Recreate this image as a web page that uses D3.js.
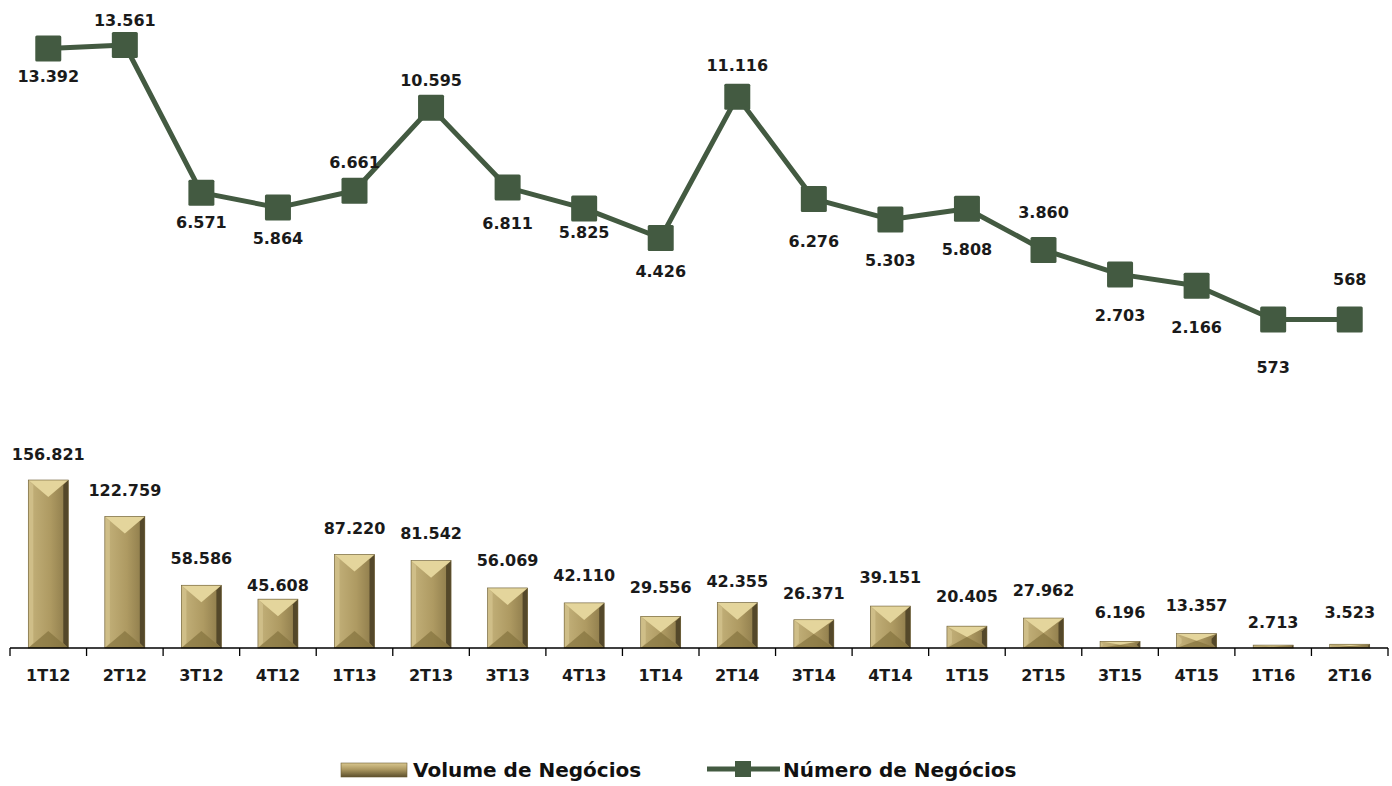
<!DOCTYPE html>
<html>
<head>
<meta charset="utf-8">
<script src="https://cdn.jsdelivr.net/npm/d3@7"></script>
<style>
  body { margin: 0; background: #fff; }
  svg { display: block; }
</style>
</head>
<body>
<div id="chart"></div>
<script>
// quarters
const quarters = ["1T12","2T12","3T12","4T12","1T13","2T13","3T13","4T13","1T14","2T14","3T14","4T14","1T15","2T15","3T15","4T15","1T16","2T16"];
// Volume de Negócios (bars)
const volume = [156821,122759,58586,45608,87220,81542,56069,42110,29556,42355,26371,39151,20405,27962,6196,13357,2713,3523];
const volumeLabels = ["156.821","122.759","58.586","45.608","87.220","81.542","56.069","42.110","29.556","42.355","26.371","39.151","20.405","27.962","6.196","13.357","2.713","3.523"];
// Número de Negócios (line)
const numero = [13392,13561,6571,5864,6661,10595,6811,5825,4426,11116,6276,5303,5808,3860,2703,2166,573,568];
const numeroLabels = ["13.392","13.561","6.571","5.864","6.661","10.595","6.811","5.825","4.426","11.116","6.276","5.303","5.808","3.860","2.703","2.166","573","568"];

const W = 1392, H = 786;
const lineColor = "#435a41";
const font = "'DejaVu Sans', sans-serif";

// label placement (centre offset from point, px) - labels were hand placed in the original
const numeroLabelDy = [27,-25,29,30,-29,-28,35,24,33,-32,42,41,40,-38,41,41,48,-40];
const volumeLabelDy = [-26,-26,-27,-14,-27,-28,-28,-28,-29,-22,-27,-29,-30,-28,-29,-29,-23,-32];

let svg = d3.select("#chart").append("svg")
  .attr("width", W).attr("height", H);

let defs = svg.append("defs");
let g1 = defs.append("linearGradient").attr("id", "faceGrad")
  .attr("x1", "0").attr("x2", "1").attr("y1", "0").attr("y2", "0");
g1.append("stop").attr("offset", "0%").attr("stop-color", "#c4b27b");
g1.append("stop").attr("offset", "55%").attr("stop-color", "#ae9a62");
g1.append("stop").attr("offset", "100%").attr("stop-color", "#8a7848");

let g2 = defs.append("linearGradient").attr("id", "legGrad")
  .attr("x1", "0").attr("x2", "0").attr("y1", "0").attr("y2", "1");
g2.append("stop").attr("offset", "0%").attr("stop-color", "#d9c78f");
g2.append("stop").attr("offset", "45%").attr("stop-color", "#ad9962");
g2.append("stop").attr("offset", "100%").attr("stop-color", "#5c4f2c");

let x = d3.scaleBand().domain(quarters).range([10, 1388]);
let cxOf = q => x(q) + x.bandwidth() / 2;
const barW = 40;

let yBar = d3.scaleLinear().domain([0, 160000]).range([648, 476.6]);
let yLine = d3.scaleLinear().domain([0, 14000]).range([331.5, 35.7]);

//////////////////// bars
let barG = svg.append("g");
quarters.forEach((q, i) => {
  let x0 = cxOf(q) - barW / 2;
  let x1 = x0 + barW;
  let y0 = yBar(volume[i]);
  let y1 = yBar(0);
  let h = y1 - y0;
  let cx = (x0 + x1) / 2;
  let s = Math.min(5, h / 2);
  let t = Math.min(17, h / 2);
  let b = barG.append("g");
  b.append("rect").attr("x", x0).attr("y", y0).attr("width", barW).attr("height", h)
    .attr("fill", "url(#faceGrad)");
  // left strip
  b.append("polygon").attr("points", [[x0,y0],[x0+s,y0+s],[x0+s,y1-s],[x0,y1]].join(" "))
    .attr("fill", "#cfbe88");
  // right strip
  b.append("polygon").attr("points", [[x1,y0],[x1-s,y0+s],[x1-s,y1-s],[x1,y1]].join(" "))
    .attr("fill", "#54482a");
  // bottom
  b.append("polygon").attr("points", [[x0,y1],[x1,y1],[cx,y1-t]].join(" "))
    .attr("fill", "#85733f").attr("opacity", 0.7);
  // top
  b.append("polygon").attr("points", [[x0,y0],[x1,y0],[cx,y0+t]].join(" "))
    .attr("fill", "#e4d59c");
  b.append("rect").attr("x", x0).attr("y", y0).attr("width", barW).attr("height", h)
    .attr("fill", "none").attr("stroke", "#6b5d35").attr("stroke-width", 0.6);
});

barG.selectAll("text.vl").data(quarters).enter().append("text")
  .attr("class", "vl")
  .attr("x", d => cxOf(d))
  .attr("y", (d, i) => yBar(volume[i]) + volumeLabelDy[i] + 6)
  .attr("text-anchor", "middle")
  .style("font-family", font).style("font-weight", "bold").style("font-size", "16px")
  .attr("fill", "#1a1a1a")
  .text((d, i) => volumeLabels[i]);

//////////////////// axis
let axis = svg.append("g").attr("transform", "translate(0,648)");
axis.append("line").attr("x1", 10).attr("x2", 1388).attr("y1", 0).attr("y2", 0)
  .attr("stroke", "#000").attr("stroke-width", 1.3);
let tickPos = quarters.map(q => x(q)).concat([1388]);
axis.selectAll("line.tk").data(tickPos).enter().append("line")
  .attr("x1", d => d).attr("x2", d => d).attr("y1", 0).attr("y2", 8)
  .attr("stroke", "#000").attr("stroke-width", 1.3);
axis.selectAll("text").data(quarters).enter().append("text")
  .attr("x", d => cxOf(d))
  .attr("y", 33)
  .attr("text-anchor", "middle")
  .style("font-family", font).style("font-weight", "bold").style("font-size", "16px")
  .attr("fill", "#1a1a1a")
  .text(d => d);

//////////////////// line
let line = d3.line().x((d, i) => cxOf(quarters[i])).y(d => yLine(d));
svg.append("path").datum(numero).attr("d", line)
  .attr("fill", "none").attr("stroke", lineColor).attr("stroke-width", 5)
  .attr("stroke-linejoin", "round");
svg.selectAll("rect.mk").data(numero).enter().append("rect")
  .attr("class", "mk")
  .attr("x", (d, i) => cxOf(quarters[i]) - 13)
  .attr("y", d => yLine(d) - 13)
  .attr("width", 26).attr("height", 26).attr("rx", 1.5)
  .attr("fill", lineColor);
svg.selectAll("text.nl").data(numero).enter().append("text")
  .attr("class", "nl")
  .attr("x", (d, i) => cxOf(quarters[i]))
  .attr("y", (d, i) => yLine(d) + numeroLabelDy[i] + 6)
  .attr("text-anchor", "middle")
  .style("font-family", font).style("font-weight", "bold").style("font-size", "16px")
  .attr("fill", "#1a1a1a")
  .text((d, i) => numeroLabels[i]);

//////////////////// legend
let leg = svg.append("g");
leg.append("rect").attr("x", 341).attr("y", 763).attr("width", 66).attr("height", 14)
  .attr("fill", "url(#legGrad)").attr("stroke", "#6b5d35").attr("stroke-width", 0.6);
leg.append("text").attr("x", 413).attr("y", 777)
  .style("font-family", font).style("font-weight", "bold").style("font-size", "20px")
  .attr("fill", "#111").text("Volume de Negócios");
leg.append("line").attr("x1", 707).attr("x2", 780).attr("y1", 769).attr("y2", 769)
  .attr("stroke", lineColor).attr("stroke-width", 5);
leg.append("rect").attr("x", 735).attr("y", 761).attr("width", 16).attr("height", 16)
  .attr("fill", lineColor);
leg.append("text").attr("x", 783).attr("y", 777)
  .style("font-family", font).style("font-weight", "bold").style("font-size", "20px")
  .attr("fill", "#111").text("Número de Negócios");
</script>
</body>
</html>
